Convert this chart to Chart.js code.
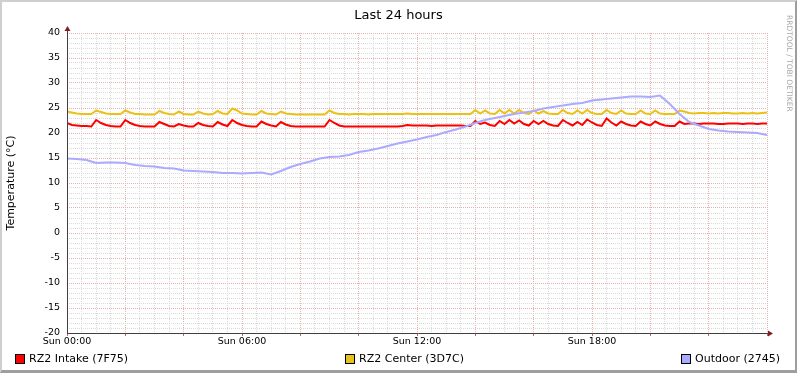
<!DOCTYPE html>
<html>
<head>
<meta charset="utf-8">
<script src="https://cdn.jsdelivr.net/npm/chart.js@4.4.0/dist/chart.umd.min.js"></script>
<style>
body { margin: 0; background: #fff; font-family: "DejaVu Sans", sans-serif; }
#wrap { position: relative; width: 797px; height: 373px; overflow: hidden; background: #fff; }
#frame { position: absolute; left: 0; top: 0; width: 797px; height: 373px; box-sizing: border-box;
  border-style: solid; border-width: 2px 2px 3px 2px; border-color: #cfcfcf #9e9e9e #9e9e9e #cfcfcf; pointer-events: none; }
#title { position: absolute; left: 0; top: 7px; width: 797px; text-align: center; font-size: 13px; line-height: 15px; color: #000; }
#mark { position: absolute; left: 785px; top: 15px; writing-mode: vertical-rl; font-size: 7.5px; line-height: 9px; color: #a8a8a8; white-space: nowrap; }
#legend { position: absolute; left: 15px; top: 353px; width: 765px; height: 12px; display: flex; justify-content: space-between;
  font-size: 11px; line-height: 12px; color: #000; }
.item { display: flex; align-items: center; white-space: nowrap; }
.box { width: 8px; height: 8px; border: 1px solid #000; margin-right: 4px; }
</style>
</head>
<body>
<div id="wrap">
  <canvas id="c" width="797" height="373"></canvas>
  <div id="title">Last 24 hours</div>
  <div id="mark">RRDTOOL / TOBI OETIKER</div>
  <div id="legend"></div>
  <div id="frame"></div>
</div>
<script>
// x tick labels, every 6 hours
const timeLabels = ['Sun 00:00', 'Sun 06:00', 'Sun 12:00', 'Sun 18:00'];

// 10 minute samples, 00:00 .. 24:00
const intake = [
  22.0,21.6,21.5,21.4,21.4,21.3,22.6,22.0,21.6,21.4,
  21.3,21.3,22.6,22.0,21.6,21.4,21.3,21.3,21.3,22.2,
  21.8,21.4,21.3,21.8,21.5,21.3,21.3,22.0,21.6,21.4,
  21.3,22.2,21.7,21.4,22.6,22.0,21.6,21.4,21.3,21.3,
  22.3,21.8,21.5,21.3,22.2,21.7,21.4,21.3,21.3,21.3,
  21.3,21.3,21.3,21.3,22.6,22.0,21.5,21.3,21.3,21.3,
  21.3,21.3,21.3,21.3,21.3,21.3,21.3,21.3,21.3,21.4,
  21.6,21.5,21.5,21.5,21.5,21.4,21.5,21.5,21.5,21.5,
  21.5,21.5,21.4,21.4,22.4,21.8,22.1,21.6,21.4,22.4,
  21.8,22.6,21.9,22.5,21.8,21.5,22.4,21.8,22.4,21.8,
  21.5,21.4,22.6,22.0,21.5,22.2,21.6,22.7,22.1,21.6,
  21.4,22.9,22.1,21.5,22.3,21.8,21.5,21.4,22.3,21.8,
  21.5,22.3,21.8,21.5,21.4,21.4,22.3,21.8,21.9,21.9,
  21.8,21.9,21.9,21.9,21.8,21.8,21.9,21.9,21.9,21.8,
  21.9,21.9,21.8,21.9,21.9
];
const center = [
  24.3,24.1,23.9,23.8,23.8,23.8,24.5,24.2,23.9,23.8,
  23.8,23.8,24.5,24.1,23.8,23.8,23.7,23.7,23.7,24.4,
  24.0,23.8,23.7,24.3,23.8,23.7,23.7,24.3,23.9,23.7,
  23.8,24.4,23.9,23.8,24.9,24.5,23.9,23.8,23.7,23.7,
  24.4,23.9,23.8,23.7,24.3,23.9,23.8,23.7,23.7,23.7,
  23.7,23.7,23.7,23.7,24.5,24.0,23.8,23.8,23.7,23.8,
  23.8,23.8,23.7,23.8,23.8,23.8,23.8,23.8,23.8,23.8,
  23.9,23.8,23.8,23.8,23.8,23.8,23.8,23.8,23.8,23.8,
  23.8,23.8,23.8,23.8,24.6,23.9,24.5,23.9,23.8,24.6,
  23.9,24.6,23.9,24.6,24.0,23.8,24.5,23.9,24.4,23.9,
  23.8,23.8,24.6,24.0,23.8,24.5,23.9,24.6,24.0,23.8,
  23.8,24.6,24.0,23.8,24.5,23.9,23.8,23.8,24.5,23.9,
  23.8,24.5,23.9,23.8,23.8,23.8,24.5,24.3,24.0,23.9,
  24.0,24.0,23.9,24.0,23.9,24.0,24.0,23.9,23.9,24.0,
  23.9,24.0,23.9,24.0,24.1
];
// 20 minute samples
const outdoor = [
  14.9,14.8,14.6,14.0,14.1,14.1,14.0,13.6,13.4,13.3,
  13.0,12.9,12.5,12.4,12.3,12.2,12.0,12.0,11.9,12.0,
  12.1,11.7,12.4,13.2,13.8,14.3,14.9,15.2,15.3,15.6,
  16.2,16.5,16.9,17.4,17.9,18.3,18.7,19.2,19.6,20.2,
  20.7,21.3,22.0,22.6,23.0,23.4,23.8,24.1,24.4,24.9,
  25.2,25.5,25.8,26.0,26.5,26.7,26.9,27.1,27.3,27.3,
  27.2,27.5,25.8,23.8,22.2,21.5,20.8,20.5,20.3,20.2,
  20.1,20.0,19.6
];

function toPoints(values, stepHours) {
  return values.map((v, i) => ({ x: i * stepHours, y: v }));
}

const FONT = 'DejaVu Sans';
const majorGrid = '#eab0b0';
const minorGrid = '#dadada';

const axisArrows = {
  id: 'axisArrows',
  afterDatasetsDraw(chart) {
    const { ctx, chartArea: a } = chart;
    ctx.save();
    ctx.strokeStyle = '#404040';
    ctx.lineWidth = 1;
    ctx.beginPath();
    ctx.moveTo(a.left + 0.5, a.bottom + 1);
    ctx.lineTo(a.left + 0.5, a.top - 4);
    ctx.moveTo(a.left, a.bottom + 0.5);
    ctx.lineTo(a.right + 3, a.bottom + 0.5);
    ctx.stroke();
    ctx.fillStyle = '#7f1f1f';
    ctx.beginPath();
    ctx.moveTo(a.left + 0.5, a.top - 7);
    ctx.lineTo(a.left - 2.5, a.top - 2);
    ctx.lineTo(a.left + 3.5, a.top - 2);
    ctx.fill();
    ctx.beginPath();
    ctx.moveTo(a.right + 6, a.bottom + 0.5);
    ctx.lineTo(a.right + 1, a.bottom - 2.5);
    ctx.lineTo(a.right + 1, a.bottom + 3.5);
    ctx.fill();
    ctx.restore();
  }
};

const chart = new Chart(document.getElementById('c'), {
  type: 'line',
  data: {
    datasets: [
      { label: 'RZ2 Intake (7F75)', data: toPoints(intake, 1 / 6), borderColor: '#ff0000', backgroundColor: '#ff0000', order: 2 },
      { label: 'RZ2 Center (3D7C)', data: toPoints(center, 1 / 6), borderColor: '#eac117', backgroundColor: '#eac117', order: 1 },
      { label: 'Outdoor (2745)', data: toPoints(outdoor, 1 / 3), borderColor: '#aaaaff', backgroundColor: '#aaaaff', order: 0 }
    ]
  },
  options: {
    responsive: false,
    animation: false,
    layout: { padding: { top: 33, right: 30, bottom: 0, left: 0 } },
    elements: { point: { radius: 0 }, line: { borderWidth: 2, tension: 0 } },
    plugins: { legend: { display: false }, tooltip: { enabled: false }, title: { display: false } },
    scales: {
      x: {
        type: 'linear', min: 0, max: 24,
        afterFit: s => { s.height = 40; },
        ticks: {
          stepSize: 0.5, autoSkip: false, maxRotation: 0, padding: 0,
          color: '#000', font: { family: FONT, size: 9.5 },
          callback: v => (v % 6 === 0 && v < 24) ? timeLabels[v / 6] : ''
        },
        grid: {
          color: c => (c.tick && c.tick.value % 2 === 0) ? majorGrid : minorGrid,
          tickColor: c => (c.tick && c.tick.value % 2 === 0) ? '#d06060' : 'transparent',
          tickLength: 3, lineWidth: 1
        },
        border: { display: false, dash: [1, 1] }
      },
      y: {
        min: -20, max: 40,
        afterFit: s => { s.width = 67; },
        title: { display: true, text: 'Temperature (°C)', color: '#000', font: { family: FONT, size: 11 }, padding: { top: 5, bottom: 0 } },
        ticks: {
          stepSize: 1, autoSkip: false, padding: 7,
          color: '#000', font: { family: FONT, size: 9.5 },
          callback: v => v % 5 === 0 ? v : ''
        },
        grid: {
          color: c => (c.tick && c.tick.value % 5 === 0) ? majorGrid : minorGrid,
          drawTicks: false, lineWidth: 1
        },
        border: { display: false, dash: [1, 1] }
      }
    }
  },
  plugins: [axisArrows]
});

// legend
const legend = document.getElementById('legend');
chart.data.datasets.forEach(ds => {
  const item = document.createElement('div');
  item.className = 'item';
  const box = document.createElement('span');
  box.className = 'box';
  box.style.background = ds.borderColor;
  item.appendChild(box);
  item.appendChild(document.createTextNode(ds.label));
  legend.appendChild(item);
});
</script>
</body>
</html>
